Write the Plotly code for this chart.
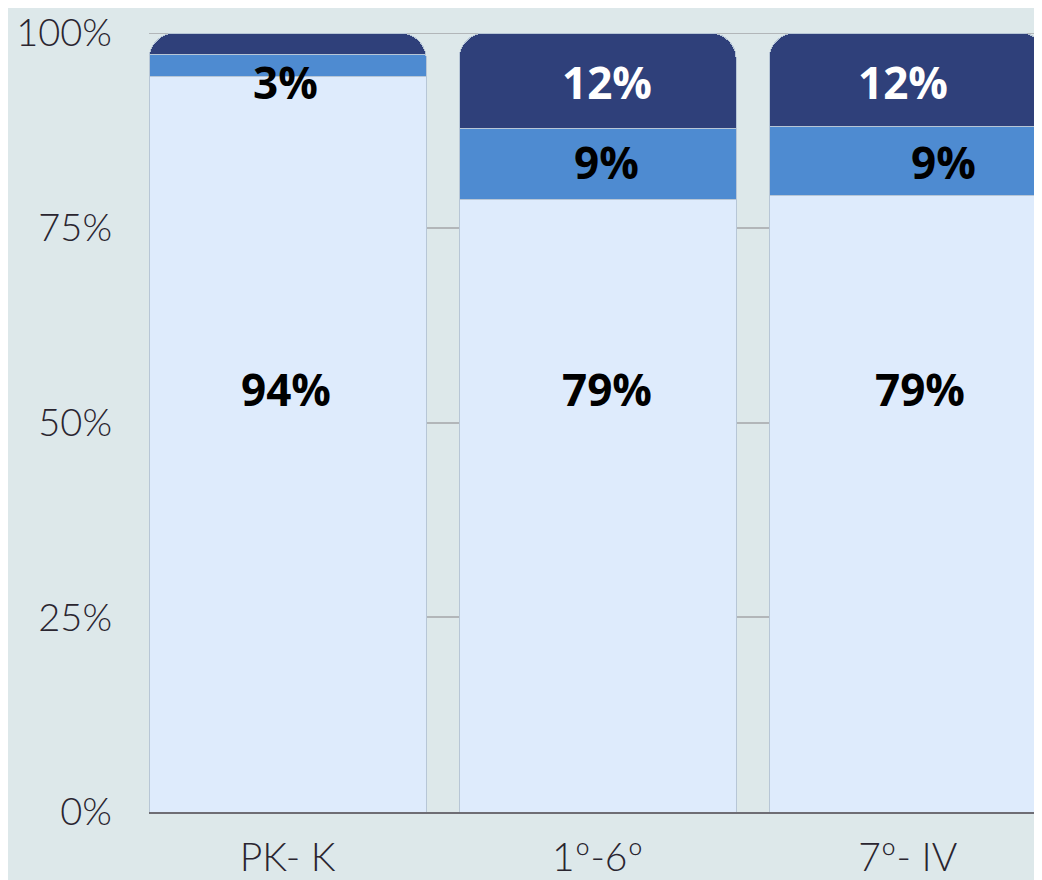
import plotly.graph_objects as go

# data
grades = ["PK- K", "1º-6º", "7º- IV"]
share_low = [0.944, 0.786, 0.791]
share_mid = [0.028, 0.091, 0.089]
share_top = [0.028, 0.123, 0.120]

label_low = ["94%", "79%", "79%"]
label_mid = ["3%", "9%", "9%"]
label_top = ["", "12%", "12%"]

# label anchor heights (as placed in the original)
label_y_low = [0.543, 0.543, 0.543]
label_y_mid = [0.937, 0.835, 0.835]
label_y_top = [0.937, 0.937, 0.937]

y_ticks = [0, 0.25, 0.5, 0.75, 1]
y_tick_text = ["0%", "25%", "50%", "75%", "100%"]

BG = "#dde8ea"
C_LOW = "#deebfc"
C_MID = "#4e8bd1"
C_TOP = "#2f407a"
GRID = "#b2b6b9"

fig = go.Figure()
for vals, color in [(share_low, C_LOW), (share_mid, C_MID), (share_top, C_TOP)]:
    fig.add_trace(
        go.Bar(
            x=grades,
            y=vals,
            marker=dict(color=color, line=dict(color="#b7c6d6", width=1)),
            hoverinfo="skip",
        )
    )

label_font = dict(family="Open Sans", size=44, weight=700)

# small pixel offsets of the labels within each bar
shift_low = [-2, 9, 12]
shift_mid = [-2, 9, 36]
shift_top = [0, 9, -5]

for i, g in enumerate(grades):
    fig.add_annotation(x=g, y=label_y_low[i], text=label_low[i], showarrow=False,
                       xshift=shift_low[i], font=dict(label_font, color="#000000"))
    fig.add_annotation(x=g, y=label_y_mid[i], text=label_mid[i], showarrow=False,
                       xshift=shift_mid[i], font=dict(label_font, color="#000000"))
    if label_top[i]:
        fig.add_annotation(x=g, y=label_y_top[i], text=label_top[i], showarrow=False,
                           xshift=shift_top[i], font=dict(label_font, color="#ffffff"))

# top gridline sits on the plot edge, draw it explicitly
fig.add_shape(type="line", xref="paper", yref="y", x0=0, x1=1, y0=y_ticks[-1], y1=y_ticks[-1],
              line=dict(color=GRID, width=2), layer="below")

tick_font = dict(family="Lato", size=38, color="#2a2530", weight=300)

# page body adds an 8px margin, so margins are trimmed to match
fig.update_layout(
    width=1042,
    height=880,
    margin=dict(l=141, r=0, t=23, b=76),
    paper_bgcolor=BG,
    plot_bgcolor=BG,
    barmode="stack",
    bargap=0.106,
    barcornerradius=26,
    showlegend=False,
    font=tick_font,
)
fig.update_xaxes(
    range=[-0.447, 2.459],
    showgrid=False,
    showline=True,
    linecolor="#6e6d74",
    linewidth=2,
    ticks="",
    ticklabelstandoff=10,
    tickfont=dict(tick_font, size=39),
)
fig.update_yaxes(
    range=[0, 1],
    tickvals=y_ticks,
    ticktext=y_tick_text,
    showgrid=True,
    gridcolor=GRID,
    gridwidth=2,
    zeroline=False,
    ticks="",
    ticklabelstandoff=36,
    ticklabeloverflow="allow",
    tickfont=tick_font,
)

fig.write_html("out.html")
